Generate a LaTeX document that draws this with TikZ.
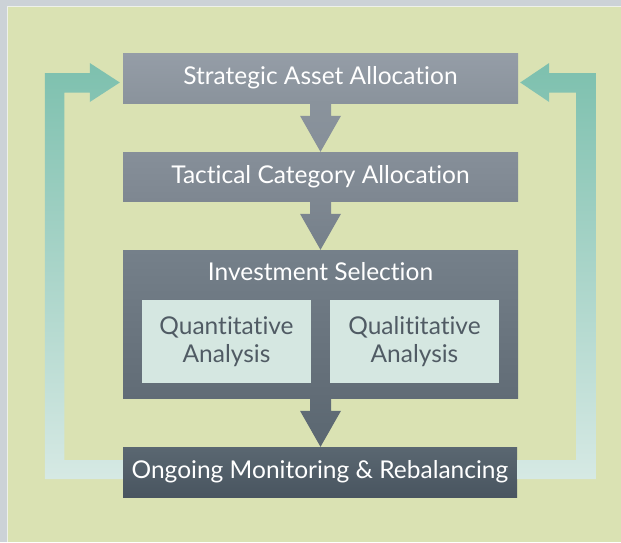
\documentclass[tikz,border=0pt]{standalone}
\usepackage{fontspec}
\setmainfont{Lato}[Ligatures={NoCommon}]
\usetikzlibrary{calc}
\definecolor{outergray}{HTML}{CCD2D7}
\definecolor{panelline}{HTML}{EEF1EA}
\definecolor{panel}{HTML}{DAE2B3}
\definecolor{aTop}{HTML}{959DA7}
\definecolor{aBot}{HTML}{8A939C}
\definecolor{bTop}{HTML}{868F99}
\definecolor{bBot}{HTML}{7E8791}
\definecolor{cTop}{HTML}{75808A}
\definecolor{cBot}{HTML}{616C76}
\definecolor{dTop}{HTML}{5A6771}
\definecolor{dBot}{HTML}{495560}
\definecolor{mint}{HTML}{D5E7E1}
\definecolor{inktext}{HTML}{505B64}
\definecolor{fbTop}{HTML}{7DC0AE}
\definecolor{fbBot}{HTML}{D6E9E4}
\tikzset{
  stagebox/.style={minimum width=395pt, minimum height=50pt, inner sep=0pt,
    text=white, font=\fontsize{24.5}{28}\selectfont, draw=none},
  subbox/.style={fill=mint, minimum width=169pt, minimum height=83pt, inner sep=0pt,
    text=inktext, align=center, font=\fontsize{24.5}{28}\selectfont},
}
\newcommand{\blockdown}[4]{%
  \shade[top color=#3, bottom color=#4]
    let \p1=(#1), \p2=(#2) in
    (\x1-10.5pt,\y1) -- (\x1+10.5pt,\y1) -- (\x1+10.5pt,\y2+36pt) --
    (\x1+20.5pt,\y2+36pt) -- (\x1,\y2) -- (\x1-20.5pt,\y2+36pt) --
    (\x1-10.5pt,\y2+36pt) -- cycle;}
\begin{document}
\begin{tikzpicture}[x=1pt,y=-1pt]
\useasboundingbox (0,0) rectangle (621,542);
\fill[outergray] (0,0) rectangle (621,542);
\fill[panelline] (6.5,5.5) rectangle (621,542);
\fill[panel] (8,7) rectangle (621,542);

\node[stagebox, shade, top color=aTop, bottom color=aBot] (s1) at (320.5,78) {Strategic Asset Allocation};
\node[stagebox, shade, top color=bTop, bottom color=bBot, minimum height=49pt] (s2) at (320.5,176.5) {Tactical Category Allocation};
\node[stagebox, shade, top color=cTop, bottom color=cBot, minimum height=148pt] (s3) at (320.5,324) {};
\node[text=white, font=\fontsize{24.5}{28}\selectfont, inner sep=0pt] (s3t) at ($(s3.north)+(0,22)$) {Investment Selection};
\node[subbox] (q1) at (226.5,341.5) {Quantitative\\Analysis};
\node[subbox] (q2) at (414.5,341.5) {Qualititative\\Analysis};
\node[stagebox, shade, top color=dTop, bottom color=dBot, minimum width=394pt] (s4) at (320,472) {Ongoing Monitoring \& Rebalancing};

\blockdown{s1.south}{s2.north}{aBot}{bTop}
\blockdown{s2.south}{s3.north}{bBot}{cTop}
\blockdown{s3.south}{s4.north}{cBot}{dTop}

% feedback arrows
\shade[top color=fbTop, bottom color=fbBot]
  ($(s4.west)+(0,-12)$) -- ($(s4.west)+(-58.5,-12)$) --
  ($(s1.west)+(-58.5,14.5)$) -- ($(s1.west)+(-33,14.5)$) --
  ($(s1.west)+(-33,24)$) -- ($(s1.west)+(-3,4.5)$) --
  ($(s1.west)+(-33,-15)$) -- ($(s1.west)+(-33,-5)$) --
  ($(s1.west)+(-78,-5)$) -- ($(s4.west)+(-78,7)$) --
  ($(s4.west)+(0,7)$) -- cycle;
\shade[top color=fbTop, bottom color=fbBot]
  ($(s4.east)+(0,-12)$) -- ($(s4.east)+(59,-12)$) --
  ($(s1.east)+(58,14.5)$) -- ($(s1.east)+(31,14.5)$) --
  ($(s1.east)+(31,24)$) -- ($(s1.east)+(2,4.5)$) --
  ($(s1.east)+(31,-15)$) -- ($(s1.east)+(31,-5)$) --
  ($(s1.east)+(78,-5)$) -- ($(s4.east)+(79,7)$) --
  ($(s4.east)+(0,7)$) -- cycle;
\end{tikzpicture}
\end{document}
